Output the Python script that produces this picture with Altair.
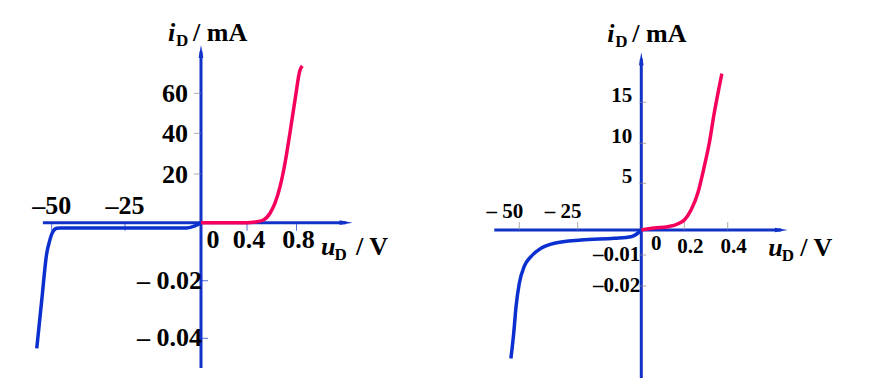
import altair as alt
import pandas as pd

# ---------------- data ----------------
# left panel (silicon diode) : u in V, i in mA
L_FWD_U = [0.0, 0.40, 0.465, 0.532, 0.586, 0.626, 0.667, 0.707, 0.747, 0.788, 0.828, 0.847]
L_FWD_I = [0.0, 0.0, 0.29, 1.1, 3.9, 8.0, 14.8, 25.3, 40.2, 56.7, 71.5, 73.7]
L_REV_U = [-55.1, -53.4, -51.7, -50.8, -49.7, -48.3, -47.2, -4.7, -2.0, -0.3, 0.0]
L_REV_I = [-0.0435, -0.0268, -0.0106, -0.0066, -0.0033, -0.0019, -0.0018, -0.0018, -0.0011, -0.0002, 0.0]

# right panel (germanium diode)
R_FWD_U = [0.0, 0.06, 0.123, 0.169, 0.2, 0.231, 0.262, 0.292, 0.315, 0.338, 0.361, 0.373]
R_FWD_I = [0.0, 0.21, 0.35, 0.64, 1.07, 2.14, 3.93, 7.1, 10.0, 13.7, 16.9, 18.5]
R_REV_U = [-53.6, -52.4, -51.4, -50.0, -47.9, -45.0, -40.7, -35.0, -23.7, -10.6, -4.0, -1.4, 0.0]
R_REV_I = [-0.0434, -0.0353, -0.0267, -0.0191, -0.0137, -0.0105, -0.0073, -0.0053, -0.004, -0.0033, -0.0027, -0.0013, 0.0]

# tick values and labels
L_XT_NEG, L_XL_NEG = [-50, -25], ["–50", "–25"]
L_XT_POS, L_XL_POS = [0.4, 0.8], ["0.4", "0.8"]
L_YT_POS, L_YL_POS = [20, 40, 60], ["20", "40", "60"]
L_YT_NEG, L_YL_NEG = [-0.02, -0.04], ["– 0.02", "– 0.04"]

R_XT_NEG, R_XL_NEG = [-50, -25], ["– 50", "– 25"]
R_XT_POS, R_XL_POS = [0.2, 0.4], ["0.2", "0.4"]
R_YT_POS, R_YL_POS = [5, 10, 15], ["5", "10", "15"]
R_YT_NEG, R_YL_NEG = [-0.01, -0.02], ["–0.01", "–0.02"]

AXIS_BLUE = "#1233c8"
CURVE_BLUE = "#0b30cf"
RED = "#f5005c"
GRAY = "#8a8a8a"
FONT = "Liberation Serif"
ARROW = "M1,0L-1,-0.36L-1,0.36Z"

LEFT = dict(
    xd=[-50, -25, 0, 0.4, 0.8], xr=[43.7, 117, 193, 239, 288.5],
    yd=[-0.04, -0.02, 0, 20, 40, 60], yr=[330.3, 272.7, 214.7, 166, 125.3, 85.3],
    x_axis=(-53.0, 1.2), y_axis=(-0.0503, 80.9),
    fwd=(L_FWD_U, L_FWD_I), rev=(L_REV_U, L_REV_I),
    xt_neg=(L_XT_NEG, L_XL_NEG), xt_pos=(L_XT_POS, L_XL_POS),
    yt_pos=(L_YT_POS, L_YL_POS), yt_neg=(L_YT_NEG, L_YL_NEG),
    fs=26, xtick_dir=1, xtick_col=AXIS_BLUE, ytick_pos_col=GRAY, ytick_neg_col=AXIS_BLUE,
    ytick_pos_off=-3.5, ytick_neg_off=3.5,
    xneg_dx=0, xneg_dy=-8.7, zero_dx=12, zero_dy=25.3, xpos_dx=2, xpos_dy=25.3,
    ypos_dx=-13, ypos_dy=1, yneg_dx=1, yneg_dy=0,
    yt_i=(-33, -10.5), yt_d=(-25, -5.5), yt_rest=(-8, -10.5),
    xt_u=(-25, 32), xt_d=(-11.5, 37), xt_rest=(10, 32),
)
RIGHT = dict(
    xd=[-50, -25, 0, 0.2, 0.4], xr=[78.3, 136.7, 200.3, 243.3, 286.7],
    yd=[-0.02, -0.01, 0, 5, 10, 15], yr=[278, 247, 222, 175.3, 135.3, 94.3],
    x_axis=(-60.7, 0.647), y_axis=(-0.0497, 20.3),
    fwd=(R_FWD_U, R_FWD_I), rev=(R_REV_U, R_REV_I),
    xt_neg=(R_XT_NEG, R_XL_NEG), xt_pos=(R_XT_POS, R_XL_POS),
    yt_pos=(R_YT_POS, R_YL_POS), yt_neg=(R_YT_NEG, R_YL_NEG),
    fs=21, xtick_dir=-1, xtick_col=GRAY, ytick_pos_col=GRAY, ytick_neg_col=GRAY,
    ytick_pos_off=1.5, ytick_neg_off=1.5,
    xneg_dx=-14.5, xneg_dy=-11.7, zero_dx=15, zero_dy=20, xpos_dx=6, xpos_dy=23.3,
    ypos_dx=-9, ypos_dy=-6, yneg_dx=-1, yneg_dy=0,
    yt_i=(-34, -16.8), yt_d=(-26, -11.8), yt_rest=(-9, -16.8),
    xt_u=(-13, 26), xt_d=(0.5, 31), xt_rest=(19, 26),
)


def panel(p):
    xs = alt.Scale(domain=p["xd"], range=p["xr"], zero=False, nice=False)
    ys = alt.Scale(domain=p["yd"], range=p["yr"], zero=False, nice=False)

    def X(f="x"):
        return alt.X(f, type="quantitative", scale=xs, axis=None)

    def Y(f="y"):
        return alt.Y(f, type="quantitative", scale=ys, axis=None)

    layers = []
    # axes lines
    layers.append(alt.Chart(pd.DataFrame({"x": [p["x_axis"][0]], "x2": [p["x_axis"][1]], "y": [0]}))
                  .mark_rule(color=AXIS_BLUE, strokeWidth=3)
                  .encode(x=X(), x2="x2:Q", y=Y()))
    layers.append(alt.Chart(pd.DataFrame({"y": [p["y_axis"][0]], "y2": [p["y_axis"][1]], "x": [0]}))
                  .mark_rule(color=AXIS_BLUE, strokeWidth=3)
                  .encode(y=Y(), y2="y2:Q", x=X()))
    # arrow heads
    layers.append(alt.Chart(pd.DataFrame({"x": [p["x_axis"][1]], "y": [0]}))
                  .mark_point(shape=ARROW, filled=True, size=169, color=AXIS_BLUE, opacity=1, angle=0)
                  .encode(x=X(), y=Y()))
    layers.append(alt.Chart(pd.DataFrame({"x": [0], "y": [p["y_axis"][1]]}))
                  .mark_point(shape=ARROW, filled=True, size=169, color=AXIS_BLUE, opacity=1, angle=270)
                  .encode(x=X(), y=Y()))
    # ticks
    xt = list(p["xt_neg"][0]) + list(p["xt_pos"][0])
    layers.append(alt.Chart(pd.DataFrame({"x": xt, "y": [0] * len(xt)}))
                  .mark_tick(orient="vertical", size=8, thickness=1, color=p["xtick_col"],
                             yOffset=4 * p["xtick_dir"])
                  .encode(x=X(), y=Y()))
    layers.append(alt.Chart(pd.DataFrame({"y": p["yt_pos"][0], "x": [0] * len(p["yt_pos"][0])}))
                  .mark_tick(orient="horizontal", size=7, thickness=1, color=p["ytick_pos_col"],
                             xOffset=p["ytick_pos_off"])
                  .encode(x=X(), y=Y()))
    layers.append(alt.Chart(pd.DataFrame({"y": p["yt_neg"][0], "x": [0] * len(p["yt_neg"][0])}))
                  .mark_tick(orient="horizontal", size=7, thickness=1, color=p["ytick_neg_col"],
                             xOffset=p["ytick_neg_off"])
                  .encode(x=X(), y=Y()))
    # curves
    layers.append(alt.Chart(pd.DataFrame({"x": p["rev"][0], "y": p["rev"][1]}))
                  .mark_line(color=CURVE_BLUE, strokeWidth=3.5, interpolate="monotone")
                  .encode(x=X(), y=Y()))
    layers.append(alt.Chart(pd.DataFrame({"x": p["fwd"][0], "y": p["fwd"][1]}))
                  .mark_line(color=RED, strokeWidth=3.5, interpolate="monotone")
                  .encode(x=X(), y=Y()))

    txt = dict(font=FONT, fontWeight="bold", color="black", fontSize=p["fs"])
    # tick labels
    xv, xl = p["xt_neg"]
    layers.append(alt.Chart(pd.DataFrame({"x": xv, "y": [0] * len(xv), "t": xl}))
                  .mark_text(align="center", baseline="alphabetic", dx=p["xneg_dx"], dy=p["xneg_dy"], **txt)
                  .encode(x=X(), y=Y(), text="t:N"))
    xv, xl = p["xt_pos"]
    layers.append(alt.Chart(pd.DataFrame({"x": xv, "y": [0] * len(xv), "t": xl}))
                  .mark_text(align="center", baseline="alphabetic", dx=p["xpos_dx"], dy=p["xpos_dy"], **txt)
                  .encode(x=X(), y=Y(), text="t:N"))
    layers.append(alt.Chart(pd.DataFrame({"x": [0], "y": [0], "t": ["0"]}))
                  .mark_text(align="center", baseline="alphabetic", dx=p["zero_dx"], dy=p["zero_dy"], **txt)
                  .encode(x=X(), y=Y(), text="t:N"))
    yv, yl = p["yt_pos"]
    layers.append(alt.Chart(pd.DataFrame({"x": [0] * len(yv), "y": yv, "t": yl}))
                  .mark_text(align="right", baseline="middle", dx=p["ypos_dx"], dy=p["ypos_dy"], **txt)
                  .encode(x=X(), y=Y(), text="t:N"))
    yv, yl = p["yt_neg"]
    layers.append(alt.Chart(pd.DataFrame({"x": [0] * len(yv), "y": yv, "t": yl}))
                  .mark_text(align="right", baseline="middle", dx=p["yneg_dx"], dy=p["yneg_dy"], **txt)
                  .encode(x=X(), y=Y(), text="t:N"))

    # axis titles (i_D / mA and u_D / V)
    big = dict(font=FONT, fontWeight="bold", color="black", fontSize=26)
    sub = dict(font=FONT, fontWeight="bold", color="black", fontSize=17)
    ytop = pd.DataFrame({"x": [0], "y": [p["y_axis"][1]]})
    layers.append(alt.Chart(ytop.assign(t="i")).mark_text(
        align="left", baseline="alphabetic", dx=p["yt_i"][0], dy=p["yt_i"][1], fontStyle="italic", **big)
        .encode(x=X(), y=Y(), text="t:N"))
    layers.append(alt.Chart(ytop.assign(t="D")).mark_text(
        align="left", baseline="alphabetic", dx=p["yt_d"][0], dy=p["yt_d"][1], **sub)
        .encode(x=X(), y=Y(), text="t:N"))
    layers.append(alt.Chart(ytop.assign(t="/ mA")).mark_text(
        align="left", baseline="alphabetic", dx=p["yt_rest"][0], dy=p["yt_rest"][1], **big)
        .encode(x=X(), y=Y(), text="t:N"))
    xend = pd.DataFrame({"x": [p["x_axis"][1]], "y": [0]})
    layers.append(alt.Chart(xend.assign(t="u")).mark_text(
        align="left", baseline="alphabetic", dx=p["xt_u"][0], dy=p["xt_u"][1], fontStyle="italic", **big)
        .encode(x=X(), y=Y(), text="t:N"))
    layers.append(alt.Chart(xend.assign(t="D")).mark_text(
        align="left", baseline="alphabetic", dx=p["xt_d"][0], dy=p["xt_d"][1], **sub)
        .encode(x=X(), y=Y(), text="t:N"))
    layers.append(alt.Chart(xend.assign(t="/ V")).mark_text(
        align="left", baseline="alphabetic", dx=p["xt_rest"][0], dy=p["xt_rest"][1], **big)
        .encode(x=X(), y=Y(), text="t:N"))

    return alt.layer(*layers).properties(width=433, height=372)


chart = alt.hconcat(panel(LEFT), panel(RIGHT), spacing=0, bounds="flush").configure_view(
    stroke=None).properties(padding=0, background="white")

chart.save("out.html", embed_options={"renderer": "svg", "actions": False})
